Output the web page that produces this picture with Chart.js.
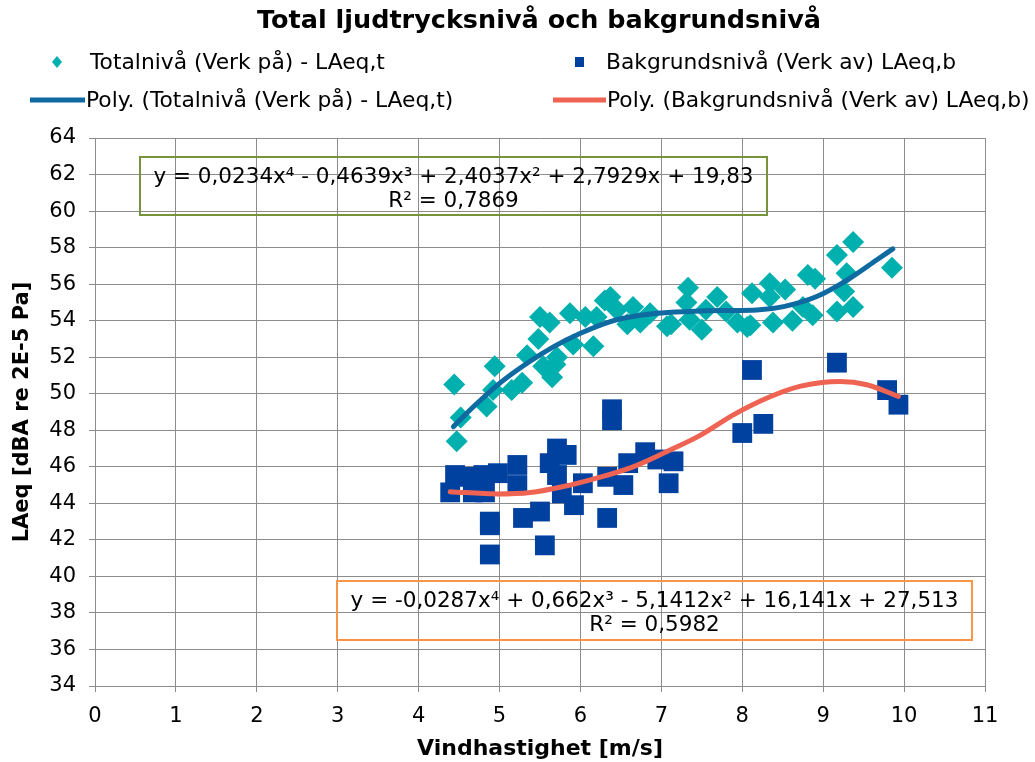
<!DOCTYPE html>
<html>
<head>
<meta charset="utf-8">
<script src="https://cdn.jsdelivr.net/npm/chart.js@4/dist/chart.umd.min.js"></script>
<style>
  html, body { margin: 0; padding: 0; background: #fff; }
</style>
</head>
<body>
<canvas id="chart" width="1035" height="762"></canvas>
<script>
// Totalnivå (Verk på) - wind speed / level pairs
const totalX = [4.44, 4.47, 4.52, 4.84, 4.92, 4.94, 5.15, 5.28, 5.34, 5.48, 5.50, 5.54, 5.62, 5.65, 5.69, 5.71,
                5.87, 5.91, 6.06, 6.16, 6.20, 6.30, 6.37, 6.45, 6.58, 6.65, 6.74, 6.86, 7.07, 7.12, 7.31, 7.33,
                7.35, 7.50, 7.55, 7.69, 7.80, 7.94, 8.06, 8.10, 8.12, 8.34, 8.34, 8.38, 8.53, 8.62, 8.75, 8.81,
                8.87, 8.90, 9.17, 9.17, 9.26, 9.29, 9.37, 9.37, 9.85];
const totalY = [50.5, 47.4, 48.7, 49.3, 50.2, 51.5, 50.2, 50.6, 52.1, 53.0, 54.2, 51.5, 53.9, 50.9, 51.6, 52.0,
                54.4, 52.7, 54.2, 52.6, 54.2, 55.1, 55.3, 54.6, 53.8, 54.75, 53.9, 54.4, 53.7, 53.8, 55.0, 55.8,
                54.05, 53.5, 54.6, 55.3, 54.5, 53.9, 53.65, 53.75, 55.5, 56.05, 55.3, 53.9, 55.7, 54.0, 54.75, 56.5,
                54.3, 56.3, 57.6, 54.5, 55.6, 56.6, 58.3, 54.75, 56.9];

// Bakgrundsnivå (Verk av)
const bgX = [4.39, 4.45, 4.60, 4.67, 4.80, 4.82, 4.88, 4.88, 4.88, 4.98, 5.22, 5.22, 5.29, 5.50, 5.56, 5.62,
             5.71, 5.71, 5.83, 5.77, 5.92, 6.03, 6.33, 6.33, 6.39, 6.39, 6.53, 6.59, 6.80, 6.95, 7.09, 7.15,
             8.00, 8.12, 8.26, 9.17, 9.79, 9.93];
const bgY = [44.6, 45.55, 45.45, 44.6, 45.55, 44.6, 43.0, 42.8, 41.2, 45.65, 46.1, 45.0, 43.2, 43.55, 41.7, 46.2,
             47.0, 45.55, 46.65, 44.55, 43.9, 45.1, 45.45, 43.2, 49.15, 48.55, 45.0, 46.2, 46.8, 46.4, 45.1, 46.3,
             47.85, 51.3, 48.35, 51.7, 50.2, 49.4];

// polynomial trendlines
const trendTotalX = [4.43, 4.68, 5.00, 5.34, 5.67, 6.00, 6.37, 6.53, 6.94, 7.35, 7.77, 8.18, 8.51, 8.92, 9.33, 9.66, 9.86];
const trendTotalY = [48.2, 49.3, 50.57, 51.67, 52.58, 53.31, 53.95, 54.13, 54.4, 54.5, 54.55, 54.58, 54.77, 55.32, 56.32, 57.32, 57.93];
const trendBgX = [4.39, 4.97, 5.38, 5.79, 6.20, 6.65, 7.07, 7.48, 7.89, 8.30, 8.71, 9.21, 9.54, 9.93];
const trendBgY = [44.64, 44.51, 44.59, 44.92, 45.38, 46.0, 46.84, 47.72, 48.84, 49.75, 50.4, 50.67, 50.49, 49.85];

const chartTitle = 'Total ljudtrycksnivå och bakgrundsnivå';
const equations = [
    { lines: ['y = 0,0234x⁴ - 0,4639x³ + 2,4037x² + 2,7929x + 19,83', 'R² = 0,7869'], color: '#77933C' },
    { lines: ['y = -0,0287x⁴ + 0,662x³ - 5,1412x² + 16,141x + 27,513', 'R² = 0,5982'], color: '#F79646' }
];

const TEAL = '#00B0AE';
const NAVY = '#0041A0';
const TREND_BLUE = '#0E6AA0';
const TREND_RED = '#EE6352';
const FONT = '"DejaVu Sans", Verdana, sans-serif';

function toPoints(xs, ys) {
    return xs.map((x, i) => ({ x: x, y: ys[i] }));
}

// title, legend + equation boxes, drawn by hand like the Excel layout
const extras = {
    id: 'extras',
    afterDraw(chart) {
        const ctx = chart.ctx;
        ctx.save();
        ctx.textBaseline = 'middle';

        ctx.font = 'bold 25.5px ' + FONT;
        ctx.textAlign = 'center';
        ctx.fillStyle = '#000';
        ctx.fillText(chartTitle, 539, 21);

        ctx.font = '21.8px ' + FONT;
        ctx.textAlign = 'left';

        // row 1
        ctx.fillStyle = TEAL;
        ctx.beginPath();
        ctx.moveTo(57, 56); ctx.lineTo(62, 62); ctx.lineTo(57, 68); ctx.lineTo(52, 62);
        ctx.closePath(); ctx.fill();
        ctx.fillStyle = NAVY;
        ctx.fillRect(575, 57, 9, 10);
        ctx.fillStyle = '#000';
        ctx.fillText(chart.data.datasets[0].label, 90, 63);
        ctx.fillText(chart.data.datasets[1].label, 606, 63);

        // row 2
        ctx.lineWidth = 5;
        ctx.strokeStyle = TREND_BLUE;
        ctx.beginPath(); ctx.moveTo(30, 100); ctx.lineTo(85, 100); ctx.stroke();
        ctx.strokeStyle = TREND_RED;
        ctx.beginPath(); ctx.moveTo(553, 100); ctx.lineTo(606, 100); ctx.stroke();
        ctx.fillText(chart.data.datasets[2].label, 86, 101);
        ctx.fillText(chart.data.datasets[3].label, 607, 101);

        // equation boxes
        const boxes = [
            { x: 140, y: 157, w: 627, h: 58 },
            { x: 337, y: 581, w: 635, h: 59 }
        ];
        ctx.font = '21.5px ' + FONT;
        ctx.textAlign = 'center';
        ctx.lineWidth = 2;
        boxes.forEach((b, i) => {
            ctx.strokeStyle = equations[i].color;
            ctx.strokeRect(b.x, b.y, b.w, b.h);
            ctx.fillStyle = '#000';
            ctx.fillText(equations[i].lines[0], b.x + b.w / 2, b.y + 20);
            ctx.fillText(equations[i].lines[1], b.x + b.w / 2, b.y + 44);
        });
        ctx.restore();
    }
};

const ctx = document.getElementById('chart').getContext('2d');
const chart = new Chart(ctx, {
    type: 'scatter',
    data: {
        datasets: [
            {
                label: 'Totalnivå (Verk på) - LAeq,t',
                data: toPoints(totalX, totalY),
                pointStyle: 'rectRot',
                pointRadius: 11,
                backgroundColor: TEAL,
                borderWidth: 0,
                order: 2
            },
            {
                label: 'Bakgrundsnivå (Verk av) LAeq,b',
                data: toPoints(bgX, bgY),
                pointStyle: 'rect',
                pointRadius: 14,
                backgroundColor: NAVY,
                borderWidth: 0,
                order: 2
            },
            {
                label: 'Poly. (Totalnivå (Verk på) - LAeq,t)',
                data: toPoints(trendTotalX, trendTotalY),
                showLine: true,
                pointRadius: 0,
                borderColor: TREND_BLUE,
                borderWidth: 5,
                borderCapStyle: 'round',
                cubicInterpolationMode: 'monotone',
                order: 1
            },
            {
                label: 'Poly. (Bakgrundsnivå (Verk av) LAeq,b)',
                data: toPoints(trendBgX, trendBgY),
                showLine: true,
                pointRadius: 0,
                borderColor: TREND_RED,
                borderWidth: 5,
                borderCapStyle: 'round',
                cubicInterpolationMode: 'monotone',
                order: 1
            }
        ]
    },
    options: {
        responsive: false,
        animation: false,
        layout: { padding: { left: 0, right: 50, top: 138, bottom: 0 } },
        plugins: {
            legend: { display: false },
            tooltip: { enabled: false },
            title: { display: false }
        },
        scales: {
            x: {
                type: 'linear',
                min: 0,
                max: 11,
                afterFit: function (scale) { scale.height = 76; },
                ticks: { stepSize: 1, color: '#000', padding: 12, font: { family: FONT, size: 21 } },
                grid: { color: '#8c8c8c', lineWidth: 1, tickLength: 6 },
                border: { color: '#8c8c8c' },
                title: {
                    display: true,
                    text: 'Vindhastighet [m/s]',
                    color: '#000',
                    font: { family: FONT, size: 22, weight: 'bold' },
                    padding: { top: 0, bottom: 0 }
                }
            },
            y: {
                type: 'linear',
                min: 34,
                max: 64,
                afterFit: function (scale) { scale.width = 95; },
                ticks: { stepSize: 2, color: '#000', padding: 13, font: { family: FONT, size: 21 } },
                grid: { color: '#8c8c8c', lineWidth: 1, tickLength: 6 },
                border: { color: '#8c8c8c' },
                title: {
                    display: true,
                    text: 'LAeq [dBA re 2E-5 Pa]',
                    color: '#000',
                    font: { family: FONT, size: 21, weight: 'bold' },
                    padding: { top: 10, bottom: 0 }
                }
            }
        }
    },
    plugins: [extras]
});
</script>
</body>
</html>
